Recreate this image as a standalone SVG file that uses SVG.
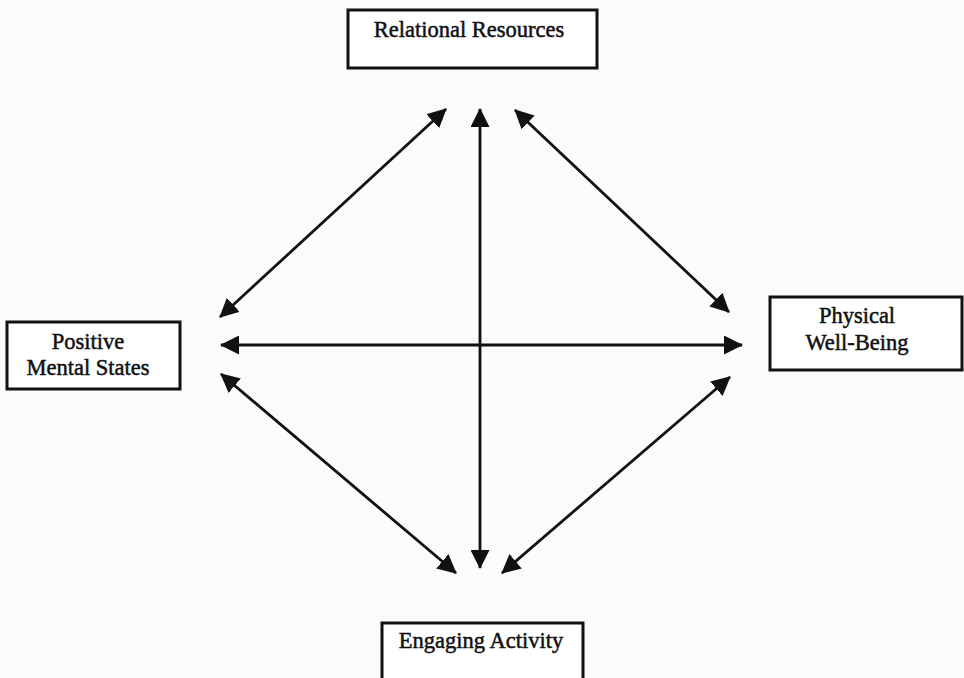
<svg xmlns="http://www.w3.org/2000/svg" width="964" height="678" viewBox="0 0 964 678">
<style>
.box{fill:#ffffff;stroke:#111;stroke-width:3}
.lbl{font-family:"Liberation Serif","Times New Roman",serif;font-size:22.5px;fill:#111;stroke:#111;stroke-width:0.5;text-anchor:middle}
.conn{stroke:#111;stroke-width:2.8;fill:none;marker-start:url(#ah);marker-end:url(#ah)}
</style>
<defs>
<marker id="ah" viewBox="0 0 19 19" refX="18" refY="9.5" markerWidth="19" markerHeight="19" markerUnits="userSpaceOnUse" orient="auto-start-reverse">
<path d="M0,0 L19,9.5 L0,19 Z" fill="#111"/>
</marker>
</defs>
<rect width="964" height="678" fill="#fbfbfb"/>
<g id="connectors">
<line class="conn" x1="480" y1="109" x2="480" y2="568"/>
<line class="conn" x1="221" y1="345" x2="742" y2="345"/>
<line class="conn" x1="220" y1="317" x2="446" y2="109"/>
<line class="conn" x1="515" y1="110" x2="729" y2="312"/>
<line class="conn" x1="221" y1="374" x2="456" y2="573"/>
<line class="conn" x1="502" y1="573" x2="730" y2="377"/>
</g>
<g id="relational-resources">
<rect class="box" x="348" y="10" width="249" height="58"/>
<text class="lbl" x="469" y="37">Relational Resources</text>
</g>
<g id="positive-mental-states">
<rect class="box" x="7" y="322" width="173" height="67"/>
<text class="lbl" x="88" y="349">Positive</text>
<text class="lbl" x="88" y="375">Mental States</text>
</g>
<g id="physical-well-being">
<rect class="box" x="770" y="297" width="192" height="73"/>
<text class="lbl" x="857" y="323">Physical</text>
<text class="lbl" x="857" y="350">Well-Being</text>
</g>
<g id="engaging-activity">
<rect class="box" x="382" y="623" width="201" height="62"/>
<text class="lbl" x="481" y="648">Engaging Activity</text>
</g>
</svg>
